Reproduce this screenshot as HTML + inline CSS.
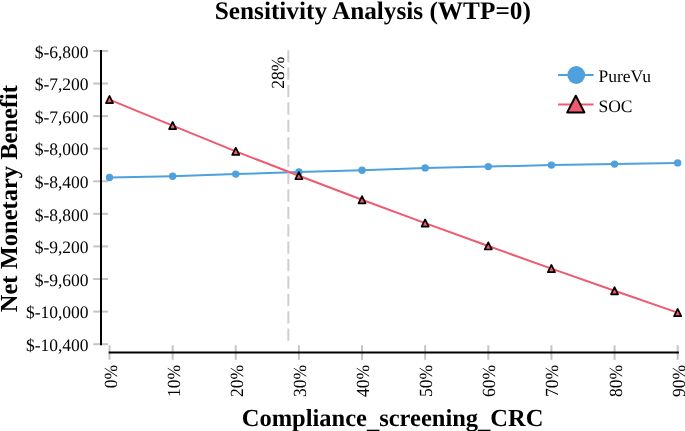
<!DOCTYPE html>
<html><head><meta charset="utf-8">
<style>
html,body{margin:0;padding:0;background:#fff;width:685px;height:431px;overflow:hidden}
svg{display:block;will-change:transform}
text{font-family:"Liberation Serif",serif;fill:#000;text-rendering:geometricPrecision}
.b{font-weight:bold}
</style></head><body>
<svg width="685" height="431" viewBox="0 0 685 431">
<text class="b" x="372.8" y="19" font-size="25.25" text-anchor="middle">Sensitivity Analysis (WTP=0)</text>
<text class="b" transform="translate(17,198.6) rotate(-90)" font-size="24.5" text-anchor="middle">Net Monetary Benefit</text>
<text class="b" x="392.6" y="426" font-size="24.5" text-anchor="middle">Compliance<tspan dy="2">_</tspan><tspan dy="-2">screening</tspan><tspan dy="2">_</tspan><tspan dy="-2">CRC</tspan></text>
<g stroke="#c4c4c4" stroke-width="2">
<line x1="93.2" y1="50.95" x2="108.1" y2="50.95"/>
<line x1="93.2" y1="83.53" x2="108.1" y2="83.53"/>
<line x1="93.2" y1="116.11" x2="108.1" y2="116.11"/>
<line x1="93.2" y1="148.69" x2="108.1" y2="148.69"/>
<line x1="93.2" y1="181.27" x2="108.1" y2="181.27"/>
<line x1="93.2" y1="213.85" x2="108.1" y2="213.85"/>
<line x1="93.2" y1="246.43" x2="108.1" y2="246.43"/>
<line x1="93.2" y1="279.01" x2="108.1" y2="279.01"/>
<line x1="93.2" y1="311.59" x2="108.1" y2="311.59"/>
<line x1="93.2" y1="344.17" x2="108.1" y2="344.17"/>
<line x1="109.5" y1="345.2" x2="109.5" y2="359.8"/>
<line x1="172.63" y1="345.2" x2="172.63" y2="359.8"/>
<line x1="235.76" y1="345.2" x2="235.76" y2="359.8"/>
<line x1="298.89" y1="345.2" x2="298.89" y2="359.8"/>
<line x1="362.02" y1="345.2" x2="362.02" y2="359.8"/>
<line x1="425.15" y1="345.2" x2="425.15" y2="359.8"/>
<line x1="488.28" y1="345.2" x2="488.28" y2="359.8"/>
<line x1="551.41" y1="345.2" x2="551.41" y2="359.8"/>
<line x1="614.54" y1="345.2" x2="614.54" y2="359.8"/>
<line x1="677.67" y1="345.2" x2="677.67" y2="359.8"/>
</g>
<line x1="101" y1="50" x2="101" y2="345.17" stroke="#000" stroke-width="2"/>
<line x1="108.7" y1="352.6" x2="678.9" y2="352.6" stroke="#000" stroke-width="2"/>
<g font-size="17.5" text-anchor="end">
<text x="88.6" y="57.75">$-6,800</text>
<text x="88.6" y="90.33">$-7,200</text>
<text x="88.6" y="122.91">$-7,600</text>
<text x="88.6" y="155.49">$-8,000</text>
<text x="88.6" y="188.07">$-8,400</text>
<text x="88.6" y="220.65">$-8,800</text>
<text x="88.6" y="253.23">$-9,200</text>
<text x="88.6" y="285.81">$-9,600</text>
<text x="88.6" y="318.39">$-10,000</text>
<text x="88.6" y="350.97">$-10,400</text>
<text transform="translate(116.5,364.8) rotate(-90) scale(1,1.06)">0%</text>
<text transform="translate(179.63,364.8) rotate(-90) scale(1,1.06)">10%</text>
<text transform="translate(242.76,364.8) rotate(-90) scale(1,1.06)">20%</text>
<text transform="translate(305.89,364.8) rotate(-90) scale(1,1.06)">30%</text>
<text transform="translate(369.02,364.8) rotate(-90) scale(1,1.06)">40%</text>
<text transform="translate(432.15,364.8) rotate(-90) scale(1,1.06)">50%</text>
<text transform="translate(495.28,364.8) rotate(-90) scale(1,1.06)">60%</text>
<text transform="translate(558.41,364.8) rotate(-90) scale(1,1.06)">70%</text>
<text transform="translate(621.54,364.8) rotate(-90) scale(1,1.06)">80%</text>
<text transform="translate(684.67,364.8) rotate(-90) scale(1,1.06)">90%</text>
</g>
<polyline fill="none" stroke="#4ea1dc" stroke-width="2" points="109.5,177.5 172.63,176.2 235.76,174.1 298.89,171.9 362.02,170.2 425.15,167.9 488.28,166.6 551.41,165.1 614.54,164.1 677.67,162.9"/>
<g fill="#4ea1dc"><circle cx="109.5" cy="177.5" r="3.7"/><circle cx="172.63" cy="176.2" r="3.7"/><circle cx="235.76" cy="174.1" r="3.7"/><circle cx="298.89" cy="171.9" r="3.7"/><circle cx="362.02" cy="170.2" r="3.7"/><circle cx="425.15" cy="167.9" r="3.7"/><circle cx="488.28" cy="166.6" r="3.7"/><circle cx="551.41" cy="165.1" r="3.7"/><circle cx="614.54" cy="164.1" r="3.7"/><circle cx="677.67" cy="162.9" r="3.7"/></g>
<line x1="288.35" y1="50.15" x2="288.35" y2="344.3" stroke="#cfcfcf" stroke-width="2" stroke-dasharray="12.3 5.1"/>
<text font-size="17.5" text-anchor="end" transform="translate(284.3,56.7) rotate(-90) scale(1,1.06)">28%</text>
<polyline fill="none" stroke="#ef5a6f" stroke-width="2" points="109.5,99.6 172.63,125.6 235.76,151.4 298.89,175.75 362.02,199.8 425.15,223.1 488.28,246 551.41,268.65 614.54,290.8 677.67,312.65"/>
<g fill="#ef5a6f" stroke="#000" stroke-width="1.7" stroke-linejoin="round"><path d="M0,-3.7 L3.55,3.5 L-3.55,3.5 Z" transform="translate(109.5,99.6)"/><path d="M0,-3.7 L3.55,3.5 L-3.55,3.5 Z" transform="translate(172.63,125.6)"/><path d="M0,-3.7 L3.55,3.5 L-3.55,3.5 Z" transform="translate(235.76,151.4)"/><path d="M0,-3.7 L3.55,3.5 L-3.55,3.5 Z" transform="translate(298.89,175.75)"/><path d="M0,-3.7 L3.55,3.5 L-3.55,3.5 Z" transform="translate(362.02,199.8)"/><path d="M0,-3.7 L3.55,3.5 L-3.55,3.5 Z" transform="translate(425.15,223.1)"/><path d="M0,-3.7 L3.55,3.5 L-3.55,3.5 Z" transform="translate(488.28,246)"/><path d="M0,-3.7 L3.55,3.5 L-3.55,3.5 Z" transform="translate(551.41,268.65)"/><path d="M0,-3.7 L3.55,3.5 L-3.55,3.5 Z" transform="translate(614.54,290.8)"/><path d="M0,-3.7 L3.55,3.5 L-3.55,3.5 Z" transform="translate(677.67,312.65)"/></g>
<line x1="558.1" y1="75" x2="593.6" y2="75" stroke="#4ea1dc" stroke-width="2"/>
<circle cx="576.25" cy="75" r="8.9" fill="#4ea1dc"/>
<text font-size="17.5" x="598.5" y="82.3">PureVu</text>
<line x1="558.1" y1="104.6" x2="593.6" y2="104.6" stroke="#ef5a6f" stroke-width="2"/>
<path d="M575.8,95.7 L584.4,112.4 L567.2,112.4 Z" fill="#ef5a6f" stroke="#000" stroke-width="2" stroke-linejoin="round"/>
<text font-size="17.5" x="598.5" y="111.8">SOC</text>
</svg>
</body></html>
